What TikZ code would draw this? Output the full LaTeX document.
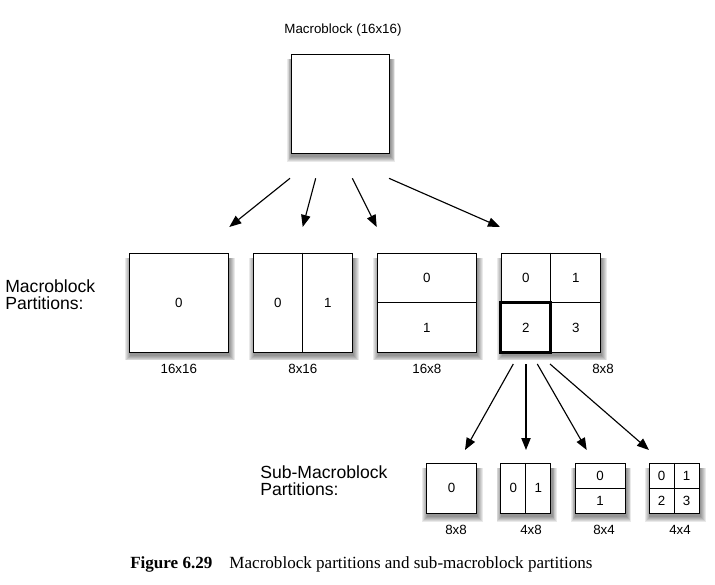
\documentclass[tikz,border=0pt]{standalone}
\usepackage{fontspec}
\setmainfont{Liberation Serif}
\newfontfamily\hv{Liberation Sans}
\usetikzlibrary{arrows.meta,calc,backgrounds}
\begin{document}
\begin{tikzpicture}[x=0.75pt,y=-0.75pt,
  blk/.style={draw=black,line width=0.6pt,fill=white,rectangle,inner sep=0pt},
  big/.style={blk,minimum width=74.25pt,minimum height=74.25pt},
  small/.style={blk,minimum width=37.5pt,minimum height=37.5pt},
  num/.style={font=\hv\fontsize{10}{12}\selectfont,inner sep=0pt},
  lbl/.style={font=\hv\fontsize{10}{12}\selectfont,inner sep=0pt},
  head/.style={font=\hv\fontsize{13.2}{13}\selectfont,align=left,anchor=west,inner sep=0pt},
  arr/.style={line width=0.85pt,-{Triangle[length=9pt,width=7pt]}},
  div/.style={line width=0.6pt},
  shade layer/.style={fill=black,fill opacity=0.085,draw=none}]
\useasboundingbox (0,0) rectangle (715,585);

% top macroblock
\node[lbl] (ttl) at (343,30) {Macroblock (16x16)};
\node[blk,minimum width=73.5pt,minimum height=74.25pt] (m) at (340,103.8) {};

% row 2
\node[head] (hmb) at (5,294.5) {Macroblock\\Partitions:};
\node[big] (b1) at (178.8,302.6) {};
\node[big] (b2) at (302.8,302.6) {};
\node[big] (b3) at (426.8,302.6) {};
\node[big] (b4) at (550.8,302.6) {};
\draw[div] (b2.north) -- (b2.south);
\draw[div] (b3.west) -- (b3.east);
\draw[div] (b4.north) -- (b4.south);
\draw[div] (b4.west) -- (b4.east);
\draw[line width=2.3pt] (b4.west) rectangle (b4.south);

\node[num] (n10) at (b1.center) {0};
\node[num] (n20) at ($(b2.center)+(-25,0)$) {0};
\node[num] (n21) at ($(b2.center)+(25,0)$) {1};
\node[num] (n30) at ($(b3.center)+(0,-25)$) {0};
\node[num] (n31) at ($(b3.center)+(0,25)$) {1};
\node[num] (n40) at ($(b4.center)+(-25,-25)$) {0};
\node[num] (n41) at ($(b4.center)+(25,-25)$) {1};
\node[num] (n42) at ($(b4.center)+(-25,25)$) {2};
\node[num] (n43) at ($(b4.center)+(25,25)$) {3};

\node[lbl] (l1) at (178.8,368.5) {16x16};
\node[lbl] (l2) at (302.8,368.5) {8x16};
\node[lbl] (l3) at (426.8,368.5) {16x8};
\node[lbl] (l4) at (603,368.5) {8x8};

% row 3
\node[head] (hsmb) at (260,481) {Sub-Macroblock\\Partitions:};
\node[small] (s1) at (451.5,488.3) {};
\node[small] (s2) at (525.8,488.3) {};
\node[small] (s3) at (600,488.3) {};
\node[small] (s4) at (674.2,488.3) {};
\draw[div] (s2.north) -- (s2.south);
\draw[div] (s3.west) -- (s3.east);
\draw[div] (s4.north) -- (s4.south);
\draw[div] (s4.west) -- (s4.east);

\node[num] (m10) at (s1.center) {0};
\node[num] (m20) at ($(s2.center)+(-12.5,0)$) {0};
\node[num] (m21) at ($(s2.center)+(12.5,0)$) {1};
\node[num] (m30) at ($(s3.center)+(0,-12.5)$) {0};
\node[num] (m31) at ($(s3.center)+(0,12.5)$) {1};
\node[num] (m40) at ($(s4.center)+(-12.5,-12.5)$) {0};
\node[num] (m41) at ($(s4.center)+(12.5,-12.5)$) {1};
\node[num] (m42) at ($(s4.center)+(-12.5,12.5)$) {2};
\node[num] (m43) at ($(s4.center)+(12.5,12.5)$) {3};

\node[lbl] (k1) at (456,530) {8x8};
\node[lbl] (k2) at (531,530) {4x8};
\node[lbl] (k3) at (604,530) {8x4};
\node[lbl] (k4) at (680,530) {4x4};

% soft shadows
\begin{scope}[on background layer]
  \foreach \n in {m,b1,b2,b3,b4,s1,s2,s3,s4}{
    \foreach \k in {0.9,1.8,2.7,3.6,4.5,5.4}{
      \fill[shade layer] ($(\n.north west)+(1.5-\k,5)$) rectangle ($(\n.south east)+(0.5+\k,2.5+\k)$);
    }
  }
\end{scope}

% arrows top
\coordinate (a1) at (290,178.3);
\coordinate (a2) at (315.7,178.3);
\coordinate (a3) at (352.3,178.3);
\coordinate (a4) at (389,178.3);
\coordinate (e1) at (229.3,227);
\coordinate (e2) at (302.7,227);
\coordinate (e3) at (376.7,227);
\coordinate (e4) at (500,227);
\draw[arr] (a1) -- (e1);
\draw[arr] (a2) -- (e2);
\draw[arr] (a3) -- (e3);
\draw[arr] (a4) -- (e4);

% arrows bottom
\coordinate (c1) at (513.3,364);
\coordinate (c2) at (526,364);
\coordinate (c3) at (537.3,364);
\coordinate (c4) at (550,364);
\coordinate (d1) at (465,450);
\coordinate (d2) at (526,450);
\coordinate (d3) at (586.7,450);
\coordinate (d4) at (649,450);
\draw[arr] (c1) -- (d1);
\draw[arr] (c2) -- (d2);
\draw[arr] (c3) -- (d3);
\draw[arr] (c4) -- (d4);

% caption
\node[anchor=base west,inner sep=0pt,font=\fontsize{12.8}{14}\selectfont] (cap) at (130,568)
  {\textbf{Figure 6.29}\hspace{12.75pt}Macroblock partitions and sub-macroblock partitions};
\end{tikzpicture}
\end{document}
